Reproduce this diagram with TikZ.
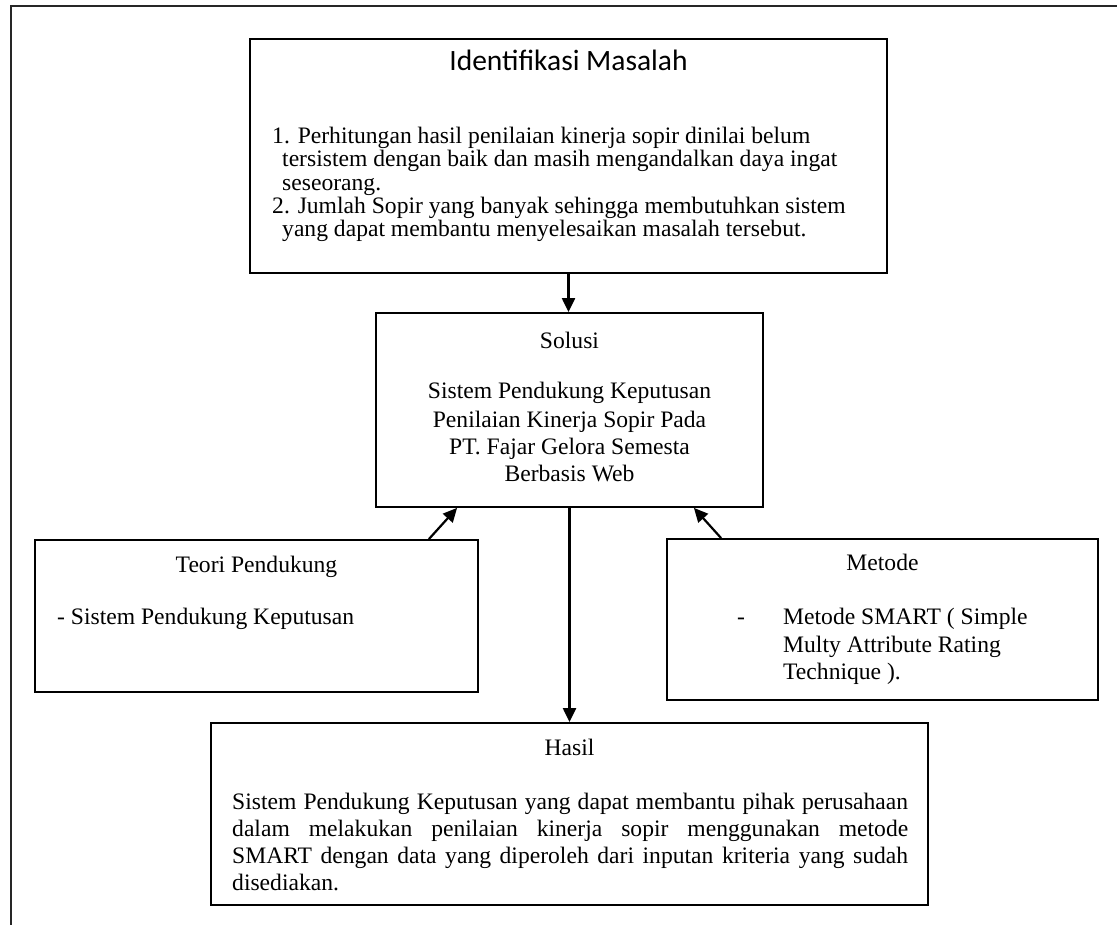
\documentclass[tikz,border=0pt]{standalone}
\usepackage{fontspec}
\setmainfont{Liberation Serif}
\newfontfamily\titlefont{Carlito}
\usetikzlibrary{arrows.meta}

\newcommand\bodysize{\fontsize{23.6pt}{27.3pt}\selectfont}

\tikzset{
  box/.style={draw, rectangle, line width=1.8pt, inner sep=0pt},
  txt/.style={anchor=base, inner sep=0pt, font=\bodysize},
  txtl/.style={anchor=base west, inner sep=0pt, font=\bodysize},
  link/.style={line width=2.2pt, -{Triangle[length=14pt,width=13pt]}},
  pageframe/.style={line width=2pt, draw=black!85},
}

\begin{document}
\begin{tikzpicture}[x=1pt, y=-1pt]
  \useasboundingbox (0,0) rectangle (1117,925);

  % page border
  \draw[pageframe] (11,925) -- (11,6) -- (1117,6);

  % boxes
  \node[box, minimum width=637pt, minimum height=234pt] (ident)  at (568.5,156)   {};
  \node[box, minimum width=387pt, minimum height=194pt] (solusi) at (569.5,410)   {};
  \node[box, minimum width=443pt, minimum height=152pt] (teori)  at (256.5,616)   {};
  \node[box, minimum width=431pt, minimum height=161pt] (metode) at (882.5,619.5) {};
  \node[box, minimum width=717pt, minimum height=182pt] (hasil)  at (569.5,814)   {};

  % Identifikasi Masalah
  \node[anchor=base, inner sep=0pt, font=\titlefont\fontsize{29.5pt}{34pt}\selectfont]
    (identtitle) at (568.5,71) {Identifikasi Masalah};
  \node[txtl] (ia) at (272,143.5) {1. Perhitungan hasil penilaian kinerja sopir dinilai belum};
  \node[txtl] (ib) at (282,167)   {tersistem dengan baik dan masih mengandalkan daya ingat};
  \node[txtl] (ic) at (282,190.5) {seseorang.};
  \node[txtl] (id) at (272,214)   {2. Jumlah Sopir yang banyak sehingga membutuhkan sistem};
  \node[txtl] (ie) at (282,237)   {yang dapat membantu menyelesaikan masalah tersebut.};

  % Solusi
  \node[txt] (stitle) at (569.5,349) {Solusi};
  \node[txt] (sa) at (569.5,399) {Sistem Pendukung Keputusan};
  \node[txt] (sb) at (569.5,427) {Penilaian Kinerja Sopir Pada};
  \node[txt] (sc) at (569.5,454) {PT. Fajar Gelora Semesta};
  \node[txt] (sd) at (569.5,481) {Berbasis Web};

  % Teori Pendukung
  \node[txt]  (ttitle) at (256.5,572) {Teori Pendukung};
  \node[txtl] (ta)     at (57,624)    {- Sistem Pendukung Keputusan};

  % Metode
  \node[txt]  (mtitle) at (882.5,570) {Metode};
  \node[txtl] (mdash)  at (737,624)   {-};
  \node[txtl] (ma)     at (783,624)   {Metode SMART ( Simple};
  \node[txtl] (mb)     at (783,652)   {Multy Attribute Rating};
  \node[txtl] (mc)     at (783,679)   {Technique ).};

  % Hasil
  \node[txt] (htitle) at (569.5,755) {Hasil};
  \node[anchor=base west, inner sep=0pt, text width=676pt, align=justify, font=\bodysize]
    (hbody) at (232,809)
    {Sistem Pendukung Keputusan yang dapat membantu pihak perusahaan\linebreak
     dalam melakukan penilaian kinerja sopir menggunakan metode\linebreak
     SMART dengan data yang diperoleh dari inputan kriteria yang sudah\linebreak
     disediakan.};

  % connectors
  \draw[link] (ident.south) -- (ident.south |- solusi.north);
  \draw[link] ([xshift=-50pt]teori.north east) -- ([xshift=82pt]solusi.south west);
  \draw[link] ([xshift=55pt]metode.north west) -- ([xshift=-70pt]solusi.south east);
  \draw[link] (solusi.south) -- (hasil.north);
\end{tikzpicture}
\end{document}
